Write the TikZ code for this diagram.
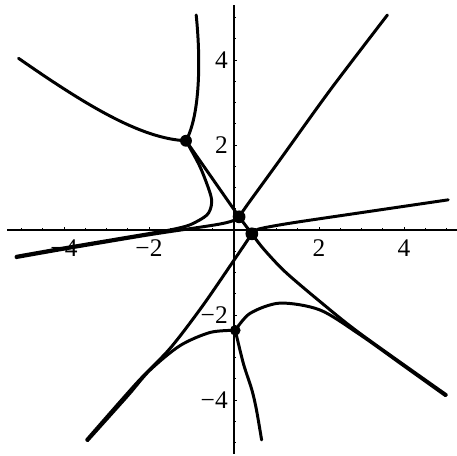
\documentclass[tikz,border=0pt]{standalone}
\usepackage{fontspec}
\setmainfont{Liberation Serif}
\usepackage{tikz}
\usetikzlibrary{positioning}

\begin{document}
\begin{tikzpicture}[x=1cm, y=1cm,
    every node/.style={font=\fontsize{17}{17}\selectfont, inner sep=0pt},
    curve/.style={line width=2pt, line cap=round, line join=round},
    axis/.style={line width=0.7pt},
    dot/.style={circle, fill=black, inner sep=0pt, minimum size=2.8mm}]
    \useasboundingbox (-5.506,-5.294) rectangle (5.247,5.412);

    % Axes with shared end points
    \coordinate (X_W) at (-5.33, 0);
    \coordinate (X_E) at (5.25, 0);
    \coordinate (Y_S) at (0, -5.26);
    \coordinate (Y_N) at (0, 5.3);
    \draw[axis] (X_W) -- (X_E);
    \draw[axis] (Y_S) -- (Y_N);
    \foreach \t in {-5,-4.5,...,5} \draw[line width=0.5pt] (\t,0) -- (\t,0.04) (0,\t) -- (0.04,\t);
    \foreach \t in {-4,-2,2,4} \draw[line width=0.6pt] (\t,0) -- (\t,0.07) (0,\t) -- (0.07,\t);

    % Tick labels
    \node (LX_M4) at (-4,-0.42) {−4};
    \node (LX_M2) at (-2,-0.42) {−2};
    \node (LX_2) at (2,-0.42) {2};
    \node (LX_4) at (4,-0.42) {4};
    \node[anchor=east] (LY_4) at (-0.14,4) {4};
    \node[anchor=east] (LY_2) at (-0.14,2) {2};
    \node[anchor=east] (LY_M2) at (-0.14,-2) {−2};
    \node[anchor=east] (LY_M4) at (-0.14,-4) {−4};

    % Junction points
    \coordinate (P1) at (-1.13, 2.1);   % upper left
    \coordinate (P2) at (0.12, 0.31);   % centre, upper
    \coordinate (P3) at (0.42, -0.09);  % centre, lower
    \coordinate (P4) at (0.03, -2.36);  % on the y axis

    % 1. Upper left branch into P1
    \draw[curve] (-5.07,4.04) .. controls (-3.5,2.95) and (-2.2,2.15) .. (P1);

    % 2. Top branch into P1
    \draw[curve] (-0.89,5.06) .. controls (-0.78,4.0) and (-0.8,2.7) .. (P1);

    % 3. P1 through P2 and P3 to the lower right
    \draw[curve] (P1) -- (P2) -- (P3);
    \draw[curve] plot[smooth] coordinates {(P3) (0.7,-0.45) (1.2,-0.98) (2.02,-1.68) (2.96,-2.43) (5.0,-3.88)};

    % 4. Diagonal through P2 and P3
    \draw[curve] plot[smooth] coordinates {(P2) (0.34,0.63) (1.08,1.65) (2.26,3.29) (3.61,5.06)};
    \draw[curve] plot[smooth] coordinates {(P3) (0.0,-0.71) (-0.75,-1.8) (-1.5,-2.78) (-2.29,-3.6) (-3.47,-4.94)};

    % 5. Flat line, left part into P2 and right part from P3
    \draw[curve] plot[smooth] coordinates {(-5.13,-0.65) (-3.94,-0.44) (-1.98,-0.11) (-0.45,0.12) (-0.02,0.22) (P2)};
    \draw[curve] plot[smooth] coordinates {(P3) (0.57,0.02) (1.32,0.16) (3.0,0.41) (5.04,0.71)};

    % 6. S shaped branch from P1 onto the flat line
    \draw[curve] plot[smooth] coordinates {(P1) (-0.8,1.49) (-0.56,0.86) (-0.53,0.6) (-0.64,0.35) (-1.04,0.12) (-1.51,0.0) (-1.98,-0.08) (-3.94,-0.41) (-5.13,-0.62)};

    % 7. Branches out of P4
    \draw[curve] plot[smooth] coordinates {(P4) (-0.56,-2.41) (-1.27,-2.72) (-1.98,-3.3) (-2.5,-3.9) (-3.45,-4.96)};
    \draw[curve] plot[smooth] coordinates {(P4) (0.38,-1.96) (1.08,-1.72) (2.02,-1.88) (2.96,-2.46) (4.0,-3.2) (4.98,-3.9)};
    \draw[curve] plot[smooth] coordinates {(P4) (0.22,-3.14) (0.42,-3.76) (0.53,-4.24) (0.65,-4.94)};

    % Dots
    \node[dot] (D1) at (P1) {};
    \node[dot, minimum size=3mm] (D2) at (P2) {};
    \node[dot, minimum size=3mm] (D3) at (P3) {};
    \node[dot, minimum size=2.5mm] (D4) at (P4) {};
\end{tikzpicture}
\end{document}
